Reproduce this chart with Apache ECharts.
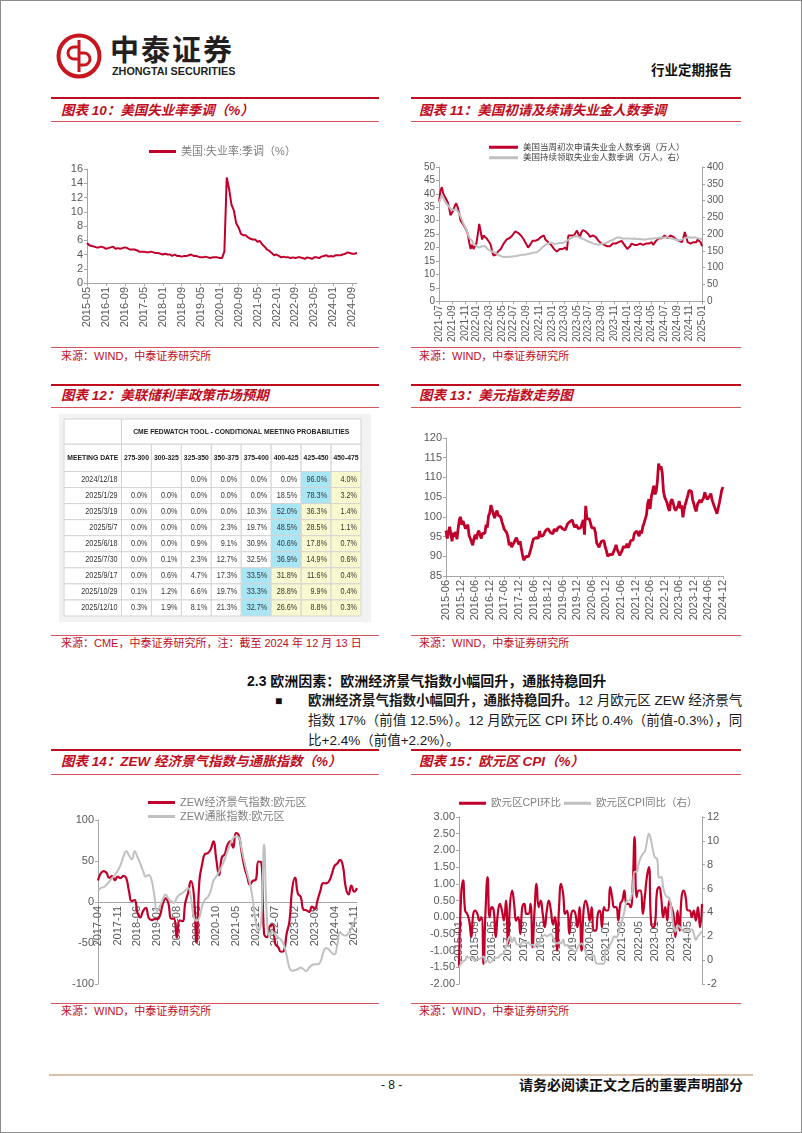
<!DOCTYPE html>
<html>
<head>
<meta charset="utf-8">
<script src="https://cdn.jsdelivr.net/npm/echarts@6/dist/echarts.min.js"></script>
<style>
  body{margin:0;background:#fff;font-family:"Liberation Sans","Noto Sans CJK SC",sans-serif;}
  #page{position:relative;width:800px;height:1131px;border:1px solid #8c8c8c;overflow:hidden;background:#fff;}
  .abs{position:absolute;white-space:nowrap;}
  .bar{position:absolute;height:2px;background:#c00d1e;}
  .thin{position:absolute;height:1px;background:#d9535c;}
  .ttl{position:absolute;font-size:13.5px;font-weight:bold;font-style:italic;color:#c00d1e;line-height:16px;white-space:nowrap;}
  .src{position:absolute;font-size:11px;color:#c00d1e;line-height:13px;white-space:nowrap;}
  .chart{position:absolute;}
  .para{position:absolute;left:307px;width:433px;font-size:13.5px;line-height:20px;color:#1a1a1a;white-space:nowrap;}
  .just{text-align:justify;text-align-last:justify;}
</style>
</head>
<body>
<div id="page">
  <!-- 页眉 -->
  <svg class="abs" style="left:55px;top:32px" width="46" height="46" viewBox="0 0 46 46">
    <circle cx="23" cy="23" r="20.5" fill="none" stroke="#c8161e" stroke-width="4"/>
    <path d="M23 7 V39" stroke="#c8161e" stroke-width="3"/>
    <path d="M23 14 h-5 a6 6 0 0 0 0 12 h5" fill="none" stroke="#c8161e" stroke-width="3"/>
    <path d="M23 20 h5 a6 6 0 0 1 0 12 h-5" fill="none" stroke="#c8161e" stroke-width="3"/>
  </svg>
  <div class="abs" style="left:109px;top:33px;font-size:29px;font-weight:bold;letter-spacing:2px;color:#231f20;line-height:34px;">中泰证券</div>
  <div class="abs" style="left:111px;top:64px;font-size:10.8px;font-weight:bold;color:#231f20;line-height:12px;">ZHONGTAI SECURITIES</div>
  <div class="abs" style="left:650px;top:62px;font-size:13.5px;font-weight:bold;color:#111;line-height:16px;">行业定期报告</div>

  <!-- 第一行 -->
  <div class="bar" style="left:50px;top:96px;width:328px"></div>
  <div class="bar" style="left:410px;top:96px;width:330px"></div>
  <div class="ttl" style="left:60px;top:102px">图表 10：美国失业率季调（%）</div>
  <div class="ttl" style="left:418px;top:102px">图表 11：美国初请及续请失业金人数季调</div>
  <div class="thin" style="left:50px;top:120px;width:328px"></div>
  <div class="thin" style="left:410px;top:120px;width:330px"></div>
  <div id="c10" class="chart" style="left:50px;top:122px;width:328px;height:222px"></div>
  <div id="c11" class="chart" style="left:410px;top:122px;width:330px;height:222px"></div>
  <div class="thin" style="left:50px;top:346px;width:328px"></div>
  <div class="thin" style="left:410px;top:346px;width:330px"></div>
  <div class="src" style="left:60px;top:349px">来源：WIND，中泰证券研究所</div>
  <div class="src" style="left:418px;top:349px">来源：WIND，中泰证券研究所</div>

  <!-- 第二行 -->
  <div class="bar" style="left:50px;top:383px;width:328px"></div>
  <div class="bar" style="left:410px;top:383px;width:330px"></div>
  <div class="ttl" style="left:60px;top:387px">图表 12：美联储利率政策市场预期</div>
  <div class="ttl" style="left:418px;top:387px">图表 13：美元指数走势图</div>
  <div class="thin" style="left:50px;top:406px;width:328px"></div>
  <div class="thin" style="left:410px;top:406px;width:330px"></div>
  <div id="c12" class="chart" style="left:58px;top:413px;width:312px;height:208px;background:#f2f2f2"></div>
  <div id="c13" class="chart" style="left:410px;top:408px;width:330px;height:224px"></div>
  <div class="thin" style="left:50px;top:634px;width:328px"></div>
  <div class="thin" style="left:410px;top:634px;width:330px"></div>
  <div class="src" style="left:60px;top:636px">来源：CME，中泰证券研究所，注：截至 2024 年 12 月 13 日</div>
  <div class="src" style="left:418px;top:636px">来源：WIND，中泰证券研究所</div>

  <!-- 正文 -->
  <div class="abs" style="left:246px;top:671px;font-size:14px;font-weight:bold;color:#111;line-height:18px;">2.3 欧洲因素：欧洲经济景气指数小幅回升，通胀持稳回升</div>
  <div class="abs" style="left:274px;top:690px;font-size:12px;color:#111;line-height:20px;">■</div>
  <div class="para just" style="top:690px"><b>欧洲经济景气指数小幅回升，通胀持稳回升。</b>12 月欧元区 ZEW 经济景气</div>
  <div class="para just" style="top:710px">指数 17%（前值 12.5%）。12 月欧元区 CPI 环比 0.4%（前值-0.3%），同</div>
  <div class="para" style="top:730px">比+2.4%（前值+2.2%）。</div>

  <!-- 第三行 -->
  <div class="bar" style="left:50px;top:748px;width:328px"></div>
  <div class="bar" style="left:410px;top:748px;width:330px"></div>
  <div class="ttl" style="left:60px;top:753px">图表 14：ZEW 经济景气指数与通胀指数（%）</div>
  <div class="ttl" style="left:418px;top:753px">图表 15：欧元区 CPI（%）</div>
  <div class="thin" style="left:50px;top:773px;width:328px"></div>
  <div class="thin" style="left:410px;top:773px;width:330px"></div>
  <div id="c14" class="chart" style="left:50px;top:775px;width:328px;height:225px"></div>
  <div id="c15" class="chart" style="left:410px;top:775px;width:330px;height:225px"></div>
  <div class="thin" style="left:50px;top:1002px;width:328px"></div>
  <div class="thin" style="left:410px;top:1002px;width:330px"></div>
  <div class="src" style="left:60px;top:1004px">来源：WIND，中泰证券研究所</div>
  <div class="src" style="left:418px;top:1004px">来源：WIND，中泰证券研究所</div>

  <!-- 页脚 -->
  <div class="abs" style="left:48px;top:1073px;width:704px;height:2px;background:#dcc0a8"></div>
  <div class="abs" style="left:380px;top:1076px;font-size:12px;color:#111;line-height:16px;">- 8 -</div>
  <div class="abs" style="left:518px;top:1076px;font-size:14px;font-weight:bold;color:#111;line-height:16px;">请务必阅读正文之后的重要声明部分</div>
</div>

<script>
  var RED = '#c0002a';
  var GRAY = '#c0c0c0';
  var AXIS = '#a6a6a6';
  var LABEL = '#595959';
  var FONT = '"Liberation Sans","Noto Sans CJK SC",sans-serif';

  function monthList(y, m, n) {
    var out = [];
    for (var i = 0; i < n; i++) {
      var mm = m - 1 + i;
      var yy = y + Math.floor(mm / 12);
      var mo = mm % 12 + 1;
      out.push(yy + '-' + (mo < 10 ? '0' : '') + mo);
    }
    return out;
  }

  // 图表10 美国失业率（2015-05 ~ 2024-11）
  var unempMonths = monthList(2015, 5, 115);
  var unempRate = [
    5.6,5.3,5.2,5.1,5.0,5.0,5.1,5.0,
    4.8,4.9,5.0,5.1,4.8,4.9,4.8,4.9,5.0,4.9,4.7,4.7,
    4.7,4.6,4.4,4.4,4.4,4.3,4.3,4.4,4.3,4.2,4.2,4.1,
    4.0,4.1,4.0,4.0,3.8,4.0,3.8,3.8,3.7,3.8,3.8,3.9,
    4.0,3.8,3.8,3.7,3.6,3.6,3.7,3.6,3.5,3.6,3.6,3.6,
    3.5,3.5,4.4,14.8,13.2,11.0,10.2,8.4,7.8,6.9,6.7,6.7,
    6.4,6.2,6.1,6.1,5.8,5.9,5.4,5.1,4.7,4.5,4.2,3.9,
    4.0,3.8,3.6,3.7,3.6,3.6,3.5,3.6,3.5,3.6,3.6,3.5,
    3.4,3.6,3.5,3.4,3.6,3.6,3.5,3.7,3.8,3.9,3.7,3.8,
    3.7,3.9,3.9,3.9,4.0,4.1,4.3,4.2,4.1,4.1,4.2
  ];

  // 图表11 初请（左，万人）与续请（右，万人），周度 2021-07-03 起
  var claimWeeks = [];
  (function () {
    var d = new Date(Date.UTC(2021, 6, 3));
    for (var i = 0; i < 184; i++) {
      claimWeeks.push(d.toISOString().slice(0, 10));
      d.setUTCDate(d.getUTCDate() + 7);
    }
  })();
  var initialClaims = [
    37,41,42.5,40,39,38,37,35,32,33,
    34,35.5,36.5,35,33,30,29.5,28.5,27.5,26.5,
    25,22,19.5,21,19.5,20.5,21.5,25,28.8,26,
    23,24.5,25,23.5,24,22,21,18.5,17,16.5,
    17.5,18.5,18.5,19.5,20,21.5,22,23,23,23.5,
    23.5,24.5,25,26,26.3,25.5,25,24.5,24,23,
    22,21,20,19.5,21.5,22.5,22,22.5,22.5,23,
    23,24,23.5,24.5,23,22.5,22,21.5,21,20.5,
    19.5,19,18.5,19,19.5,20,19.5,19,20,19,
    24.5,24,24.5,24,24.5,25.5,26.3,25,24,25.5,
    26.5,26.5,26,26.5,25,24,23.5,24.5,25,24,
    23.5,22.5,22.5,21.5,22,21,20.5,20.5,21,20.5,
    20.5,21.5,22,21.5,21,22,21.5,22.5,22,21,
    20.5,19.5,19.5,20.5,21.5,22,21,20.5,21,21,
    21.5,21,21,21.5,21.5,21,21.5,21,22,21,
    21.5,22.5,23,23.5,24,23.5,24,24.5,24,23.5,
    23.5,24.5,25,24,23.5,23,22.5,22.5,22,22,
    23.5,25.8,24,22,21.5,21.5,21.5,22,21.5,22,
    23,22.5,22,20.5
  ];
  var continuingClaims = [
    294,305,318,308,298,292,288,282,276,272,
    272,274,274,270,262,252,242,232,222,214,
    200,190,186,180,170,167,165,162,160,162,
    164,167,165,160,155,152,150,148,147,145,
    142,140,137,136,133,132,132,133,133,134,
    133,135,134,136,135,136,137,138,139,138,
    139,140,141,142,143,144,145,146,146,149,
    152,156,161,165,168,170,172,174,175,173,
    171,170,172,173,174,175,173,176,178,180,
    183,186,188,190,193,195,194,192,190,188,
    186,184,182,180,178,177,175,173,171,170,
    169,170,169,170,172,171,173,175,178,180,
    181,183,186,188,190,192,190,188,186,185,
    187,188,187,188,186,185,187,186,185,184,
    186,185,184,183,184,185,186,185,186,187,
    188,187,188,189,190,188,189,190,191,190,
    189,188,187,186,185,184,182,181,182,184,
    186,188,189,190,191,190,189,190,191,190,
    188,187,186,186
  ];

  // 图表12 CME FedWatch
  var meetingDates = ['2024/12/18','2025/1/29','2025/3/19','2025/5/7','2025/6/18','2025/7/30','2025/9/17','2025/10/29','2025/12/10'];
  var rateRanges = ['275-300','300-325','325-350','350-375','375-400','400-425','425-450','450-475'];
  var probs = [
    [null,null,0.0,0.0,0.0,0.0,96.0,4.0],
    [0.0,0.0,0.0,0.0,0.0,18.5,78.3,3.2],
    [0.0,0.0,0.0,0.0,10.3,52.0,36.3,1.4],
    [0.0,0.0,0.0,2.3,19.7,48.5,28.5,1.1],
    [0.0,0.0,0.9,9.1,30.9,40.6,17.8,0.7],
    [0.0,0.1,2.3,12.7,32.5,36.9,14.9,0.6],
    [0.0,0.6,4.7,17.3,33.5,31.8,11.6,0.4],
    [0.1,1.2,6.6,19.7,33.3,28.8,9.9,0.4],
    [0.3,1.9,8.1,21.3,32.7,26.6,8.8,0.3]
  ];

  // 图表13 美元指数，半月度 2015-06 ~ 2024-12
  var dxyDates = [];
  (function () {
    var ms = monthList(2015, 6, 115);
    for (var i = 0; i < ms.length; i++) {
      dxyDates.push(ms[i] + '-01');
      if (i < ms.length - 1) dxyDates.push(ms[i] + '-16');
    }
  })();
  var dxy = [
    96.5,94.5, 96.0,97.5, 97.5,93.8, 96.0,95.0, 96.2,94.3, 97.0,99.3, 100.0,98.0,
    99.0,99.3, 97.0,96.8, 98.0,95.3, 94.5,94.5, 92.8,94.5, 95.5,94.3, 95.8,96.5, 95.5,94.5, 95.8,95.5, 95.8,98.0, 97.3,100.2, 101.0,103.0,
    102.5,100.7, 99.7,100.9, 101.6,100.4, 100.4,100.0, 98.8,97.8, 96.8,97.2, 96.0,94.8, 92.8,93.6, 92.3,91.8, 93.5,93.5, 94.7,93.8, 93.0,93.8,
    92.0,90.3, 89.0,89.0, 90.0,89.8, 89.9,89.6, 92.0,93.3, 94.4,94.8, 94.7,94.7, 94.6,96.4, 95.0,94.9, 95.3,95.5, 96.5,96.5, 97.0,97.2,
    96.0,95.9, 95.7,96.9, 96.5,96.4, 97.2,97.4, 97.6,97.8, 97.0,97.4, 96.7,97.4, 98.2,98.1, 98.8,98.3, 99.2,98.0, 97.3,98.0, 97.6,97.0,
    96.8,97.3, 97.4,99.2, 95.5,102.8, 99.5,100.0, 99.5,99.8, 97.2,96.8, 97.2,96.0, 93.4,93.3, 92.3,93.2, 93.8,93.7, 94.0,92.4, 91.5,90.0,
    89.8,90.5, 91.0,90.4, 91.2,92.0, 92.9,91.6, 91.0,90.2, 90.0,91.5, 92.5,92.6, 92.2,93.2, 92.2,92.9, 94.0,94.0, 94.1,95.8, 96.0,96.4,
    95.9,95.1, 96.5,95.8, 97.5,98.4, 98.4,100.5, 103.3,104.5, 102.0,105.0, 105.3,107.9, 105.7,106.5, 109.0,113.5, 112.0,112.8, 111.2,106.5, 105.0,104.3,
    103.5,102.2, 101.5,103.9, 104.5,103.5, 102.2,101.6, 101.9,102.8, 104.0,102.1, 102.9,99.9, 101.9,103.2, 103.6,105.3, 106.7,106.3, 106.5,104.4, 103.3,102.1,
    101.4,103.2, 103.4,104.3, 103.6,103.4, 104.8,106.2, 105.8,104.4, 104.8,105.3, 105.9,104.3, 104.4,102.5, 101.7,100.8, 100.8,103.5, 104.0,106.8, 107.6
  ];

  // 图表14 ZEW（2017-04 ~ 2024-12）
  var zewMonths = monthList(2017, 4, 93);
  var zewSentiment = [
    26.3,35.1,37.7,35.6,29.3,31.7,26.7,30.9,29.0,
    31.8,29.3,13.4,1.1,2.4,-12.6,-18.7,-11.1,-7.2,-19.4,-22.0,-21.0,
    -20.9,-16.6,-2.5,4.5,-1.6,-20.2,-20.3,-43.6,-22.4,-23.5,-1.0,11.2,
    25.6,10.4,-49.5,25.2,46.0,58.6,59.6,64.0,73.9,52.3,32.8,54.4,
    58.3,69.6,74.0,66.3,84.0,81.3,61.2,42.7,31.1,21.0,25.9,26.8,
    49.4,48.6,-38.7,-43.0,-29.5,-28.0,-51.1,-54.9,-60.7,-59.7,-38.7,-23.6,
    16.7,29.7,10.0,6.4,-9.4,-10.0,-12.2,-5.5,-8.9,2.3,13.8,23.0,
    22.7,25.0,33.5,43.9,47.0,51.3,43.7,17.9,9.3,20.1,12.5,17.0
  ];
  var zewInflation = [
    13,17,18,21,25,29,33,38,45,55,
    62,57,52,62,55,47,38,31,33,27,
    8,-11,-5,3,9,4,1,-1,5,9,
    11,14,17,5,-18,-23,-19,-5,3,6,
    13,26,31,37,44,52,62,71,78,80,
    79,65,49,35,22,3,-24,-35,-22,70,
    -20,-42,-36,-40,-43,-46,-52,-65,-80,-84,
    -83,-82,-80,-82,-84,-80,-77,-76,-76,-73,
    -62,-56,-58,-62,-64,-52,-37,-40,-41,-38,
    -32,-24,-18
  ];

  // 图表15 欧元区CPI（2015-01 ~ 2024-12）
  var cpiMonths = monthList(2015, 1, 120);
  var cpiMom = [
    -1.5,0.6,1.1,0.2,0.1,-0.1,-0.6,0.1,0.2,0.1,-0.1,0.0,
    -1.4,0.2,1.2,0.0,0.3,0.2,-0.6,0.1,0.4,0.2,-0.1,0.5,
    -0.8,0.4,0.8,0.4,-0.1,0.0,-0.5,0.3,0.4,0.1,0.1,0.4,
    -0.9,0.2,1.0,0.3,0.5,0.1,-0.3,0.2,0.5,0.2,-0.2,0.0,
    -1.0,0.3,1.0,0.7,0.1,0.2,-0.5,0.1,0.2,0.1,-0.3,0.3,
    -1.0,0.2,0.5,0.3,-0.1,0.3,-0.4,-0.4,0.1,0.2,-0.3,0.3,
    0.2,0.2,0.9,0.6,0.3,0.3,-0.1,0.4,0.5,0.8,0.4,0.4,
    0.3,0.9,2.4,0.6,0.8,0.8,0.1,0.6,1.2,1.5,-0.1,-0.3,
    -0.2,0.8,0.9,0.6,0.0,0.3,-0.1,0.5,0.3,0.1,-0.6,0.2,
    -0.4,0.6,0.8,0.6,0.2,0.2,0.0,0.2,-0.1,0.3,-0.3,0.4
  ];
  var cpiYoy = [
    -0.6,-0.3,-0.1,0.0,0.3,0.2,0.2,0.1,-0.1,0.1,0.1,0.2,
    0.3,-0.2,0.0,-0.2,-0.1,0.1,0.2,0.2,0.4,0.5,0.6,1.1,
    1.7,2.0,1.5,1.9,1.4,1.3,1.3,1.5,1.5,1.4,1.5,1.3,
    1.3,1.1,1.4,1.2,1.9,2.0,2.1,2.0,2.1,2.2,1.9,1.5,
    1.4,1.5,1.4,1.7,1.2,1.3,1.0,1.0,0.8,0.7,1.0,1.3,
    1.4,1.2,0.7,0.3,0.1,0.3,0.4,-0.2,-0.3,-0.3,-0.3,-0.3,
    0.9,0.9,1.3,1.6,2.0,1.9,2.2,3.0,3.4,4.1,4.9,5.0,
    5.1,5.9,7.4,7.4,8.1,8.6,8.9,9.1,9.9,10.6,10.1,9.2,
    8.6,8.5,6.9,7.0,6.1,5.5,5.3,5.2,4.3,2.9,2.4,2.9,
    2.8,2.6,2.4,2.4,2.6,2.5,2.6,2.2,1.7,2.0,2.2,2.4
  ];

  // ---------- 公共样式 ----------
  function valAxis(min, max, step, extra) {
    var ax = {
      type: 'value', min: min, max: max, interval: step,
      axisLine: { show: true, lineStyle: { color: AXIS } },
      axisTick: { show: true, length: 3, lineStyle: { color: AXIS } },
      splitLine: { show: false },
      axisLabel: { fontSize: 11, color: LABEL, margin: 4, fontFamily: FONT }
    };
    for (var k in extra) ax[k] = extra[k];
    return ax;
  }
  function catAxis(data, interval, extra) {
    var ax = {
      type: 'category', data: data, boundaryGap: false,
      axisLine: { lineStyle: { color: AXIS } },
      axisTick: { show: true, interval: interval, length: 3, lineStyle: { color: AXIS } },
      axisLabel: { interval: interval, rotate: 90, fontSize: 11, color: LABEL, margin: 4, fontFamily: FONT }
    };
    for (var k in extra) ax[k] = extra[k];
    return ax;
  }
  function lineSeries(name, data, color, extra) {
    var s = { name: name, type: 'line', data: data, symbol: 'none',
      lineStyle: { color: color, width: 2 }, itemStyle: { color: color } };
    for (var k in extra) s[k] = extra[k];
    return s;
  }
  function legendBox(extra) {
    var lg = { icon: 'rect', itemWidth: 27, itemHeight: 3, textStyle: { fontSize: 11, color: '#7f7f7f', fontFamily: FONT } };
    for (var k in extra) lg[k] = extra[k];
    return lg;
  }

  // ---------- 图表10 ----------
  echarts.init(document.getElementById('c10')).setOption({
    animation: false,
    textStyle: { fontFamily: FONT },
    legend: legendBox({ left: 93, top: 18, itemGap: 0 }),
    grid: { left: 36, top: 46, width: 270, height: 114 },
    xAxis: catAxis(unempMonths, 7),
    yAxis: valAxis(0, 16, 2),
    series: [lineSeries('美国:失业率:季调（%）', unempRate, RED)]
  });

  // ---------- 图表11 ----------
  function claimLabel(idx, val) {
    var m = val.slice(5, 7);
    var prev = idx > 0 ? claimWeeks[idx - 1].slice(5, 7) : '';
    return (+m) % 2 === 1 && m !== prev;
  }
  var x11 = catAxis(claimWeeks, claimLabel);
  x11.axisLabel.fontSize = 10;
  x11.axisLabel.formatter = function (v) { return v.slice(0, 7); };
  var yl11 = valAxis(0, 50, 5);
  yl11.axisLabel.fontSize = 10;
  var yr11 = valAxis(0, 400, 50, { position: 'right' });
  yr11.axisLabel.fontSize = 10;
  yr11.axisLabel.margin = 5;
  echarts.init(document.getElementById('c11')).setOption({
    animation: false,
    textStyle: { fontFamily: FONT },
    legend: legendBox({ orient: 'vertical', left: 73, top: 15, itemWidth: 29, itemGap: 2,
      textStyle: { fontSize: 8.5, color: '#404040', fontFamily: FONT } }),
    grid: { left: 28, top: 44, width: 263, height: 136 },
    xAxis: x11,
    yAxis: [yl11, yr11],
    series: [
      lineSeries('美国当周初次申请失业金人数季调（万人）', initialClaims, RED),
      lineSeries('美国持续领取失业金人数季调（万人，右）', continuingClaims, GRAY, { yAxisIndex: 1 })
    ]
  });

  // ---------- 图表12 表格 ----------
  var CYAN = '#a8e6f6', YELLOW = '#f9f9cf';
  var COL0 = 1.92, HEAD0 = 1.57, HEAD1 = 1.7;
  var cellBox = [], cellInfo = [];
  function addCell(x0, y0, x1, y1, text, fill, align, bold) {
    cellBox.push([x0, y0, x1, y1]);
    cellInfo.push({ text: text, fill: fill, align: align, bold: bold });
  }
  addCell(0, 0, COL0, HEAD0, '', '#fff', 'center', true);
  addCell(COL0, 0, COL0 + rateRanges.length, HEAD0, 'CME FEDWATCH TOOL - CONDITIONAL MEETING PROBABILITIES', '#fff', 'center', true);
  addCell(0, HEAD0, COL0, HEAD0 + HEAD1, 'MEETING DATE', '#fff', 'center', true);
  rateRanges.forEach(function (r, c) {
    addCell(COL0 + c, HEAD0, COL0 + c + 1, HEAD0 + HEAD1, r, '#fff', 'center', true);
  });
  meetingDates.forEach(function (d, r) {
    var y0 = HEAD0 + HEAD1 + r;
    addCell(0, y0, COL0, y0 + 1, d, '#fff', 'right', false);
    var row = probs[r], mx = 0;
    row.forEach(function (v, c) { if (v != null && v > row[mx]) mx = c; });
    row.forEach(function (v, c) {
      var fill = c === mx ? CYAN : (c > mx ? YELLOW : '#fff');
      addCell(COL0 + c, y0, COL0 + c + 1, y0 + 1, v == null ? '' : v.toFixed(1) + '%', fill, 'right', false);
    });
  });
  echarts.init(document.getElementById('c12')).setOption({
    animation: false,
    grid: { left: 5, top: 5, right: 10, bottom: 6 },
    xAxis: { type: 'value', min: 0, max: COL0 + rateRanges.length, show: false },
    yAxis: { type: 'value', min: 0, max: HEAD0 + HEAD1 + meetingDates.length, inverse: true, show: false },
    series: [{
      type: 'custom',
      data: cellBox,
      encode: { x: [0, 2], y: [1, 3] },
      renderItem: function (params, api) {
        var c = cellInfo[params.dataIndex];
        var p0 = api.coord([api.value(0), api.value(1)]);
        var p1 = api.coord([api.value(2), api.value(3)]);
        var tx = c.align === 'right' ? p1[0] - 4 : (p0[0] + p1[0]) / 2;
        return {
          type: 'group',
          children: [
            { type: 'rect',
              shape: { x: p0[0], y: p0[1], width: p1[0] - p0[0], height: p1[1] - p0[1] },
              style: { fill: c.fill, stroke: '#d4d4d4', lineWidth: 1 } },
            { type: 'text', x: tx, y: (p0[1] + p1[1]) / 2, scaleX: 0.85,
              style: { text: c.text, align: c.align, verticalAlign: 'middle',
                fontSize: c.bold ? 8 : 8.5, fontWeight: c.bold ? 'bold' : 'normal',
                fontFamily: FONT, fill: c.bold ? '#222' : '#333' } }
          ]
        };
      }
    }]
  });

  // ---------- 图表13 ----------
  var x13 = catAxis(dxyDates, 11);
  x13.axisLabel.formatter = function (v) { return v.slice(0, 7); };
  echarts.init(document.getElementById('c13')).setOption({
    animation: false,
    textStyle: { fontFamily: FONT },
    grid: { left: 35, top: 29, width: 277, height: 138 },
    xAxis: x13,
    yAxis: valAxis(85, 120, 5),
    series: [lineSeries('美元指数', dxy, RED, { lineStyle: { color: RED, width: 2.8 } })]
  });

  // 类目轴放在零线上：按网格高度把底部轴上移
  function zeroOffset(height, min, max) { return -height * (0 - min) / (max - min); }

  // ---------- 图表14 ----------
  var x14 = catAxis(zewMonths, 6);
  x14.axisTick.show = false;
  x14.axisLine.onZero = false;
  x14.offset = zeroOffset(164, -100, 100);
  echarts.init(document.getElementById('c14')).setOption({
    animation: false,
    textStyle: { fontFamily: FONT },
    legend: legendBox({ orient: 'vertical', left: 92, top: 16, itemGap: 3 }),
    grid: { left: 47, top: 44, width: 259, height: 164 },
    xAxis: x14,
    yAxis: valAxis(-100, 100, 50),
    series: [
      lineSeries('ZEW经济景气指数:欧元区', zewSentiment, RED, { smooth: true, lineStyle: { color: RED, width: 2.2 } }),
      lineSeries('ZEW通胀指数:欧元区', zewInflation, GRAY, { smooth: true })
    ]
  });

  // ---------- 图表15 ----------
  var x15 = catAxis(cpiMonths, 7);
  x15.axisTick.show = false;
  x15.axisLine.onZero = false;
  x15.offset = zeroOffset(167, -2, 3);
  var yl15 = valAxis(-2, 3, 0.5);
  yl15.axisLabel.formatter = function (v) { return v.toFixed(2); };
  var yr15 = valAxis(-2, 12, 2, { position: 'right' });
  yr15.axisLabel.margin = 5;
  echarts.init(document.getElementById('c15')).setOption({
    animation: false,
    textStyle: { fontFamily: FONT },
    legend: legendBox({ left: 43, top: 17, itemGap: 3, textStyle: { fontSize: 10.5, color: '#7f7f7f', fontFamily: FONT } }),
    grid: { left: 48, top: 41, width: 243, height: 167 },
    xAxis: x15,
    yAxis: [yl15, yr15],
    series: [
      lineSeries('欧元区CPI环比', cpiMom, RED, { smooth: true, lineStyle: { color: RED, width: 2.2 } }),
      lineSeries('欧元区CPI同比（右）', cpiYoy, GRAY, { smooth: true, yAxisIndex: 1 })
    ]
  });
</script>
</body>
</html>
